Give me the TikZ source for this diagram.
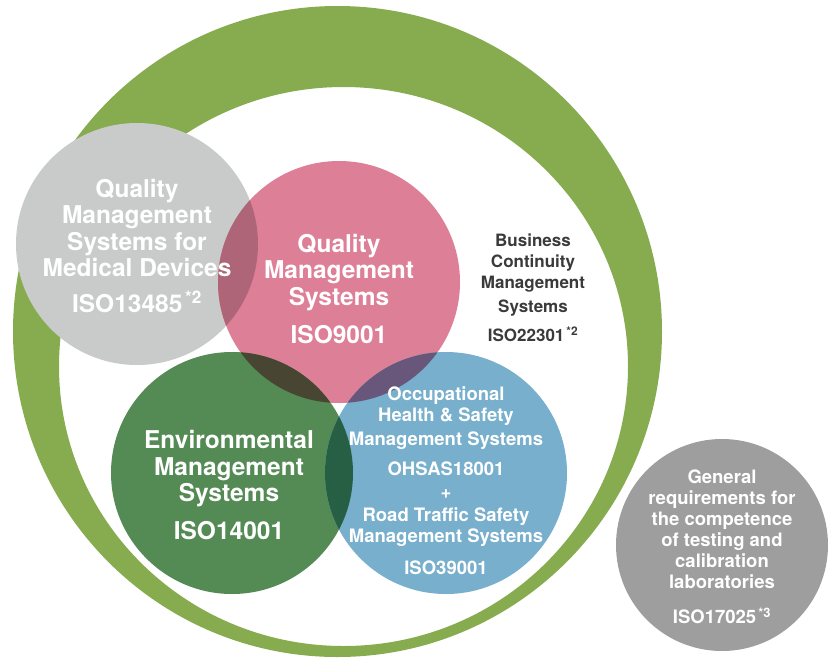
\documentclass[tikz,border=0pt]{standalone}
\usepackage{xcolor}
\usepackage{fontspec}
\setmainfont{TeX Gyre Heros}
\usepackage{tikz}
\definecolor{ringgreen}{HTML}{86AC4F}
\definecolor{medgrey}{HTML}{C9CACA}
\definecolor{qmspink}{HTML}{DE7F98}
\definecolor{envgreen}{HTML}{548B55}
\definecolor{ohsblue}{HTML}{77AFCC}
\definecolor{labgrey}{HTML}{9D9E9D}
\definecolor{medqms}{HTML}{AF6578}
\definecolor{qmsenv}{HTML}{494533}
\definecolor{qmsohs}{HTML}{68577A}
\definecolor{envohs}{HTML}{275F44}
\definecolor{darktext}{HTML}{3A3A3A}
\newcommand\isosup[1]{\textsuperscript{\,*#1}}
\newcommand\LENS[3]{
  \begin{scope}
    \clip (#1) circle[radius=121];
    \fill[#3] (#2) circle[radius=121];
  \end{scope}
}

\begin{document}
\begin{tikzpicture}[x=1pt,y=-1pt,
    disc/.style={circle,inner sep=0pt,minimum size=242pt},
    bigtxt/.style={align=center,text=white,font=\bfseries\fontsize{24.5}{26.5}\selectfont},
    smalltxt/.style={align=center,text=white,font=\bfseries\fontsize{18.5}{21}\selectfont}]
        \useasboundingbox (0,0) rectangle (831,657);
        \fill[ringgreen,even odd rule]
            (337.5,331.5) ellipse[x radius=324.5,y radius=325.5]
            (343.5,366.5) ellipse[x radius=284.5,y radius=279.5];
        \node[disc,fill=medgrey] (med) at (137,244) {};
        \node[disc,fill=qmspink] (qms) at (339,282) {};
        \node[disc,fill=envgreen] (env) at (232,473) {};
        \node[disc,fill=ohsblue] (ohs) at (446,473) {};
        \node[disc,fill=labgrey,minimum size=212pt] (lab) at (722,545) {};
        \LENS{med.center}{qms.center}{medqms}
        \LENS{qms.center}{env.center}{qmsenv}
        \LENS{qms.center}{ohs.center}{qmsohs}
        \LENS{env.center}{ohs.center}{envohs}
        \node[bigtxt] (medtxt) at (137,246)
            {Quality\\Management\\Systems for\\Medical Devices\\[9pt]ISO13485\isosup{2}};
        \node[bigtxt] (qmstxt) at (339,289)
            {Quality\\Management\\Systems\\[12pt]ISO9001};
        \node[bigtxt] (envtxt) at (229,485)
            {Environmental\\Management\\Systems\\[11pt]ISO14001};
        \node[smalltxt] (ohstxt) at (446,481)
            {Occupational\\Health \& Safety\\[3pt]Management Systems\\[9pt]OHSAS18001\\[2pt]+\\[2pt]Road Traffic Safety\\Management Systems\\[11pt]ISO39001};
        \node[smalltxt,text=darktext,font=\bfseries\fontsize{17}{21}\selectfont] (bcmtxt) at (533,288)
            {Business\\Continuity\\Management\\[3pt]Systems\\[8pt]ISO22301\isosup{2}};
        \node[smalltxt] (labtxt) at (722,547)
            {General\\requirements for\\the competence\\of testing and\\calibration\\laboratories\\[14pt]ISO17025\isosup{3}};
    \end{tikzpicture}
\end{document}
